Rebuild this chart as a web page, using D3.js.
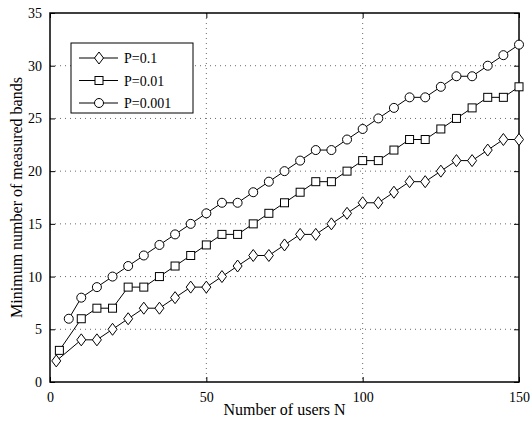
<!DOCTYPE html>
<html>
<head>
<meta charset="utf-8">
<script src="https://cdn.jsdelivr.net/npm/d3@7"></script>
<style>
  body { margin: 0; background: #fff; }
  svg text { font-family: "Liberation Serif", "Times New Roman", serif; fill: #000; }
</style>
</head>
<body>
<div id="chart"></div>
<script>
// users N (first point differs per series)
var usersN = [10, 15, 20, 25, 30, 35, 40, 45, 50, 55, 60, 65, 70, 75, 80, 85, 90, 95,
              100, 105, 110, 115, 120, 125, 130, 135, 140, 145, 150];

var p1Start = [2, 2];
var p1Bands = [4, 4, 5, 6, 7, 7, 8, 9, 9, 10, 11, 12, 12, 13, 14, 14, 15, 16,
               17, 17, 18, 19, 19, 20, 21, 21, 22, 23, 23];

var p01Start = [3, 3];
var p01Bands = [6, 7, 7, 9, 9, 10, 11, 12, 13, 14, 14, 15, 16, 17, 18, 19, 19, 20,
                21, 21, 22, 23, 23, 24, 25, 26, 27, 27, 28];

var p001Start = [6, 6];
var p001Bands = [8, 9, 10, 11, 12, 13, 14, 15, 16, 17, 17, 18, 19, 20, 21, 22, 22, 23,
                 24, 25, 26, 27, 27, 28, 29, 29, 30, 31, 32];

var xTicks = [0, 50, 100, 150];
var yTicks = [0, 5, 10, 15, 20, 25, 30, 35];

function build(start, bands) {
  var pts = [{x: start[0], y: start[1]}];
  usersN.forEach(function(n, i) { pts.push({x: n, y: bands[i]}); });
  return pts;
}

var series = [
  {name: "P=0.1", marker: "diamond", data: build(p1Start, p1Bands)},
  {name: "P=0.01", marker: "square", data: build(p01Start, p01Bands)},
  {name: "P=0.001", marker: "circle", data: build(p001Start, p001Bands)}
];

var width = 532, height = 428;
var margin = {left: 50, right: 13, top: 13, bottom: 46};
var w = width - margin.left - margin.right;
var h = height - margin.top - margin.bottom;

var svg = d3.select("#chart").append("svg")
  .attr("width", width)
  .attr("height", height);

var g = svg.append("g")
  .attr("transform", "translate(" + margin.left + "," + margin.top + ")");

var x = d3.scaleLinear().domain([0, 150]).range([0, w]);
var y = d3.scaleLinear().domain([0, 35]).range([h, 0]);

// grid
g.selectAll("line.gx")
  .data(xTicks.slice(1, -1))
  .enter().append("line")
    .attr("x1", function(d) { return x(d); })
    .attr("x2", function(d) { return x(d); })
    .attr("y1", 0).attr("y2", h)
    .attr("stroke", "#444").attr("stroke-width", 0.8)
    .attr("stroke-dasharray", "1,4");

g.selectAll("line.gy")
  .data(yTicks.slice(1, -1))
  .enter().append("line")
    .attr("y1", function(d) { return y(d); })
    .attr("y2", function(d) { return y(d); })
    .attr("x1", 0).attr("x2", w)
    .attr("stroke", "#444").attr("stroke-width", 0.8)
    .attr("stroke-dasharray", "1,4");

// axes with inner ticks
var xAxis = g.append("g")
  .attr("transform", "translate(0," + h + ")")
  .call(d3.axisBottom(x).tickValues(xTicks).tickSizeInner(-5).tickSizeOuter(0).tickPadding(10));
var yAxis = g.append("g")
  .call(d3.axisLeft(y).tickValues(yTicks).tickSizeInner(-5).tickSizeOuter(0).tickPadding(8));
var xTop = g.append("g")
  .call(d3.axisTop(x).tickValues(xTicks).tickSizeInner(-5).tickSizeOuter(0).tickFormat(""));
var yRight = g.append("g")
  .attr("transform", "translate(" + w + ",0)")
  .call(d3.axisRight(y).tickValues(yTicks).tickSizeInner(-5).tickSizeOuter(0).tickFormat(""));

[xAxis, yAxis, xTop, yRight].forEach(function(a) {
  a.select(".domain").remove();
  a.selectAll("text").style("font-size", "14px");
  a.selectAll(".tick line").attr("stroke", "#000");
});

g.append("rect")
  .attr("width", w).attr("height", h)
  .attr("fill", "none").attr("stroke", "#000").attr("stroke-width", 1.5);

// markers
function drawMarker(sel, type) {
  if (type === "diamond") {
    sel.append("path").attr("d", "M0,-6L4.5,0L0,6L-4.5,0Z");
  } else if (type === "square") {
    sel.append("rect").attr("x", -4).attr("y", -4).attr("width", 8).attr("height", 8);
  } else {
    sel.append("circle").attr("r", 4.5);
  }
  sel.selectAll("*").attr("fill", "#fff").attr("stroke", "#000").attr("stroke-width", 1);
}

var line = d3.line()
  .x(function(d) { return x(d.x); })
  .y(function(d) { return y(d.y); });

series.forEach(function(s) {
  g.append("path")
    .datum(s.data)
    .attr("d", line)
    .attr("fill", "none")
    .attr("stroke", "#000")
    .attr("stroke-width", 1);
  g.selectAll(null)
    .data(s.data)
    .enter().append("g")
      .attr("transform", function(d) { return "translate(" + x(d.x) + "," + y(d.y) + ")"; })
      .each(function() { drawMarker(d3.select(this), s.marker); });
});

// legend
var lg = svg.append("g").attr("transform", "translate(71,43)");
lg.append("rect")
  .attr("width", 122).attr("height", 70)
  .attr("fill", "#fff").attr("stroke", "#000").attr("stroke-width", 1);
series.forEach(function(s, i) {
  var row = lg.append("g").attr("transform", "translate(0," + (15 + i * 22.5) + ")");
  row.append("line")
    .attr("x1", 8).attr("x2", 47)
    .attr("stroke", "#000").attr("stroke-width", 1);
  var m = row.append("g").attr("transform", "translate(28,0)");
  drawMarker(m, s.marker);
  row.append("text")
    .attr("x", 53).attr("y", 5)
    .style("font-size", "14px")
    .text(s.name);
});

// axis titles
svg.append("text")
  .attr("x", margin.left + w / 2)
  .attr("y", 415)
  .attr("text-anchor", "middle")
  .style("font-size", "16px")
  .text("Number of users N");

svg.append("text")
  .attr("transform", "translate(22," + (margin.top + h / 2) + ") rotate(-90)")
  .attr("text-anchor", "middle")
  .style("font-size", "16px")
  .text("Minimum number of measured bands");
</script>
</body>
</html>
